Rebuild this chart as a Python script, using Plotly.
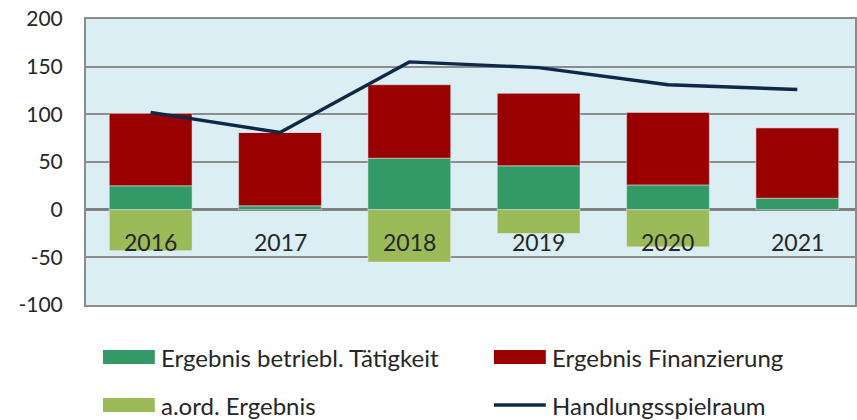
import plotly.graph_objects as go

years = ["2016", "2017", "2018", "2019", "2020", "2021"]
betrieb = [25, 4, 54, 46, 26, 12]
finanz = [76, 77, 77, 76, 76, 74]
aord = [-43, 0, -55, -25, -39, 0]
handlung = [102, 81, 155, 149, 131, 126]

C_GREEN = "#339966"
C_RED = "#990000"
C_LIGHT = "#9bbb59"
C_LINE = "#0f2847"
TXT = "#262626"
FONT = "Lato"

W, H = 857, 420
L, R, T, B = 86, 0, 19, 115
pw, ph = W - L - R, H - T - B


def px(x):
    return (x - L) / pw


def py(y):
    return (H - B - y) / ph


xi = list(range(len(years)))

fig = go.Figure()
fig.add_bar(x=xi, y=betrieb, marker_color=C_GREEN, width=0.64, name="Ergebnis betriebl. Tätigkeit")
fig.add_bar(x=xi, y=finanz, marker_color=C_RED, width=0.64, name="Ergebnis Finanzierung")
fig.add_bar(x=xi, y=aord, marker_color=C_LIGHT, width=0.64, name="a.ord. Ergebnis")
fig.add_scatter(x=xi, y=handlung, mode="lines", line=dict(color=C_LINE, width=3.4), name="Handlungsspielraum")

# category labels at the zero line
for i, yr in enumerate(years):
    fig.add_annotation(x=i, y=0, xref="x", yref="y", text=yr, showarrow=False,
                       yanchor="top", yshift=-16, font=dict(family=FONT, size=23, color=TXT))

# manual legend
legend_items = [
    ("Ergebnis betriebl. Tätigkeit", C_GREEN, "box", 103, 357),
    ("Ergebnis Finanzierung", C_RED, "box", 495, 357),
    ("a.ord. Ergebnis", C_LIGHT, "box", 103, 405),
    ("Handlungsspielraum", C_LINE, "line", 495, 405),
]
for text, col, kind, x0, yc in legend_items:
    if kind == "box":
        fig.add_shape(type="rect", xref="paper", yref="paper",
                      x0=px(x0), x1=px(x0 + 52), y0=py(yc - 7), y1=py(yc + 7),
                      fillcolor=col, line=dict(width=0))
    else:
        fig.add_shape(type="line", xref="paper", yref="paper",
                      x0=px(x0), x1=px(x0 + 52), y0=py(yc), y1=py(yc),
                      line=dict(color=col, width=3.4))
    fig.add_annotation(xref="paper", yref="paper", x=px(x0 + 56), y=py(yc),
                       text=text, showarrow=False, xanchor="left", yanchor="middle",
                       font=dict(family=FONT, size=24, color=TXT))

fig.update_layout(
    width=W, height=H,
    margin=dict(l=L, r=R, t=T, b=B),
    barmode="relative",
    paper_bgcolor="white",
    plot_bgcolor="#dbeef4",
    showlegend=False,
    font=dict(family=FONT, color=TXT),
)
fig.update_xaxes(range=[-0.5, 5.5 - 7 / 129.6], showticklabels=False, showgrid=False,
                 zeroline=False, showline=True, linecolor="#8c8c8c", linewidth=2, mirror=True)
fig.update_yaxes(range=[-100, 200], tickvals=[-100, -50, 0, 50, 100, 150, 200],
                 ticktext=["-100", "-50", "0", "50", "100", "150", "200"],
                 showgrid=True, gridcolor="#8c8c8c", gridwidth=1.6,
                 zeroline=True, zerolinecolor="#808080", zerolinewidth=2.8,
                 showline=True, linecolor="#8c8c8c", linewidth=2, mirror=True,
                 tickfont=dict(family=FONT, size=21, color=TXT), ticklabelstandoff=17)

fig.write_html("out.html", config={"displayModeBar": False},
               post_script="document.body.style.margin='0px';")
